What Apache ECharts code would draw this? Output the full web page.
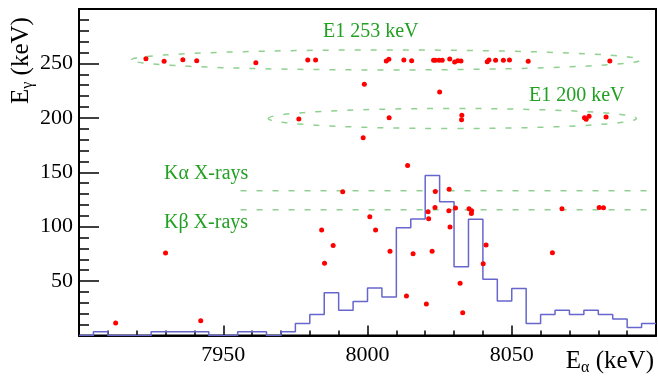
<!DOCTYPE html>
<html>
<head>
<meta charset="utf-8">
<script src="https://cdn.jsdelivr.net/npm/echarts@6/dist/echarts.min.js"></script>
<style>
  html, body { margin: 0; padding: 0; background: #fff; }
  #chart_div { width: 658px; height: 377px; }
</style>
</head>
<body>
<div id="chart_div"></div>
<script>
// alpha spectrum (5 keV bins, 7900 - 8100 keV), height in axis units
var binStart = 7900;
var binWidth = 5;
var alphaHist = [
  0, 3.4, 0, 0, 0, 3.4, 3.4, 3.4, 3.4, 0,
  0, 3.4, 3.4, 0, 3.4, 11.1, 19.4, 39.3, 23.1, 31.3,
  43.6, 35.3, 99, 107, 147, 122.9, 63.1, 106.7, 51.6, 31.6,
  43.3, 11.1, 19.3, 23.3, 19.3, 23.3, 19.3, 15.1, 7.4, 11.1
];

// alpha-gamma coincidences [E alpha, E gamma]
var coincPoints = [
  [7923.2, 254.3], [7929.5, 251.9], [7936.0, 253.4], [7940.8, 252.5], [7961.3, 250.6],
  [7979.3, 253.1], [7982.0, 253.1], [8006.5, 252.2], [8007.4, 253.8], [8012.6, 253.1],
  [8015.3, 252.5], [8022.9, 253.0], [8023.5, 253.0], [8024.8, 253.0], [8025.9, 253.0],
  [8028.5, 254.0], [8030.2, 251.3], [8031.3, 252.5], [8032.4, 252.2], [8041.5, 251.6],
  [8042.1, 253.1], [8044.4, 252.8], [8047.1, 252.8], [8049.2, 253.1], [8055.7, 251.9],
  [8084.0, 252.2],
  [7998.9, 230.8], [8025.0, 223.7],
  [7976.2, 198.9], [8007.5, 200.1], [8032.7, 202.3], [8032.6, 198.3], [8075.2, 200.1],
  [8075.8, 198.6], [8076.8, 201.4], [8082.7, 200.7],
  [7998.5, 181.7], [8013.9, 156.3],
  [7991.4, 132.1], [8023.5, 132.4], [8028.3, 134.3],
  [8023.4, 117.7], [8021.0, 113.7], [8028.2, 114.6], [8030.5, 117.1], [8035.2, 116.5],
  [8036.1, 114.6], [8036.0, 112.2], [8021.2, 107.3], [8028.6, 99.6], [8000.8, 109.1],
  [7984.1, 96.9], [8002.8, 96.9], [7988.1, 82.8], [7985.1, 66.3], [8007.8, 77.3],
  [8015.8, 75.1], [8022.4, 77.3], [8041.1, 83.1], [8040.1, 65.9],
  [8013.5, 36.2], [8020.4, 28.9], [8032.1, 47.9], [8033.0, 20.9],
  [8067.4, 116.5], [8080.3, 117.7], [8081.8, 117.4], [8064.1, 76.0],
  [7930.0, 75.7], [7912.7, 11.4], [7942.2, 13.5]
];

// E1 gates: [centre E alpha, centre E gamma, half width alpha, half width gamma]
var e1Gates = [
  [8006.4, 253.2, 88.2, 9.2],
  [8029.4, 199.4, 63.8, 9.2]
];

// X-ray gates: E gamma levels and E alpha range
var xrayLevels = [133, 115.5];
var xrayRange = [7956, 8097];

var histData = [];
for (var i = 0; i < alphaHist.length; i++) {
  histData.push([binStart + i * binWidth, alphaHist[i]]);
}
histData.push([binStart + alphaHist.length * binWidth, alphaHist[alphaHist.length - 1]]);

var serif = 'Liberation Serif';
var gateGreen = '#8fd18f';
var textGreen = '#22a022';

var xraySeries = xrayLevels.map(function (lv) {
  return {
    type: 'line',
    data: [[xrayRange[0], lv], [xrayRange[1], lv]],
    showSymbol: false,
    silent: true,
    lineStyle: { color: gateGreen, width: 1.5, type: [6, 10] },
    z: 1
  };
});

function plainLabel(v) {
  return String(v);
}

var myChart = echarts.init(document.getElementById('chart_div'));
myChart.setOption({
  animation: false,
  grid: {
    left: 79, right: 2, top: 9, bottom: 41.5,
    show: true, borderColor: '#000', borderWidth: 2, backgroundColor: 'transparent'
  },
  xAxis: {
    type: 'value', min: 7900, max: 8100, interval: 50,
    axisLine: { show: true, onZero: false, lineStyle: { color: '#000', width: 2 } },
    axisTick: { inside: true, length: 10, lineStyle: { color: '#000', width: 1.5 } },
    minorTick: { show: true, splitNumber: 5, length: 5, lineStyle: { color: '#000', width: 1.5 } },
    splitLine: { show: false },
    axisLabel: {
      showMinLabel: false, showMaxLabel: false, margin: 9, formatter: plainLabel,
      color: '#000', fontFamily: serif, fontSize: 22
    }
  },
  yAxis: {
    type: 'value', min: 0, max: 300, interval: 50,
    axisLine: { show: true, onZero: false, lineStyle: { color: '#000', width: 2 } },
    axisTick: { inside: true, length: 20, lineStyle: { color: '#000', width: 1.5 } },
    minorTick: { show: true, splitNumber: 5, length: 10, lineStyle: { color: '#000', width: 1.5 } },
    splitLine: { show: false },
    axisLabel: {
      showMinLabel: false, showMaxLabel: false, margin: 6, formatter: plainLabel,
      color: '#000', fontFamily: serif, fontSize: 22
    }
  },
  graphic: [
    {
      type: 'text', x: 21, y: 104, rotation: Math.PI / 2,
      style: {
        text: '{e|E}{s|γ}{e| (keV)}',
        align: 'left', verticalAlign: 'middle',
        rich: {
          e: { fontFamily: serif, fontSize: 25, fill: '#000' },
          s: { fontFamily: serif, fontSize: 16, fill: '#000', verticalAlign: 'bottom', padding: [14, 0, 0, 0] }
        }
      }
    },
    {
      type: 'text', x: 654, y: 361,
      style: {
        text: '{e|E}{s|α}{e| (keV)}',
        align: 'right', verticalAlign: 'middle',
        rich: {
          e: { fontFamily: serif, fontSize: 25, fill: '#000' },
          s: { fontFamily: serif, fontSize: 16, fill: '#000', verticalAlign: 'bottom', padding: [14, 0, 0, 0] }
        }
      }
    },
    { type: 'text', x: 323, y: 32, style: { text: 'E1 253 keV', fontFamily: serif, fontSize: 20, fill: textGreen, verticalAlign: 'middle' } },
    { type: 'text', x: 529, y: 96, style: { text: 'E1 200 keV', fontFamily: serif, fontSize: 20, fill: textGreen, verticalAlign: 'middle' } },
    { type: 'text', x: 164, y: 174, style: { text: 'Kα X-rays', fontFamily: serif, fontSize: 20, fill: textGreen, verticalAlign: 'middle' } },
    { type: 'text', x: 164, y: 223, style: { text: 'Kβ X-rays', fontFamily: serif, fontSize: 20, fill: textGreen, verticalAlign: 'middle' } }
  ],
  series: [
    {
      type: 'custom',
      data: e1Gates,
      silent: true,
      z: 1,
      renderItem: function (params, api) {
        var c = api.coord([api.value(0), api.value(1)]);
        var s = api.size([api.value(2), api.value(3)]);
        return {
          type: 'ellipse',
          shape: { cx: c[0], cy: c[1], rx: s[0], ry: s[1] },
          style: { fill: null, stroke: gateGreen, lineWidth: 1.5, lineDash: [6, 10] }
        };
      }
    }
  ].concat(xraySeries).concat([
    {
      type: 'line',
      step: 'end',
      data: histData,
      showSymbol: false,
      silent: true,
      lineStyle: { color: '#6666cc', width: 1.5 },
      z: 2
    },
    {
      type: 'scatter',
      data: coincPoints,
      symbol: 'circle',
      symbolSize: 5,
      itemStyle: { color: '#ff0000', opacity: 1 },
      z: 3
    }
  ])
});
</script>
</body>
</html>
